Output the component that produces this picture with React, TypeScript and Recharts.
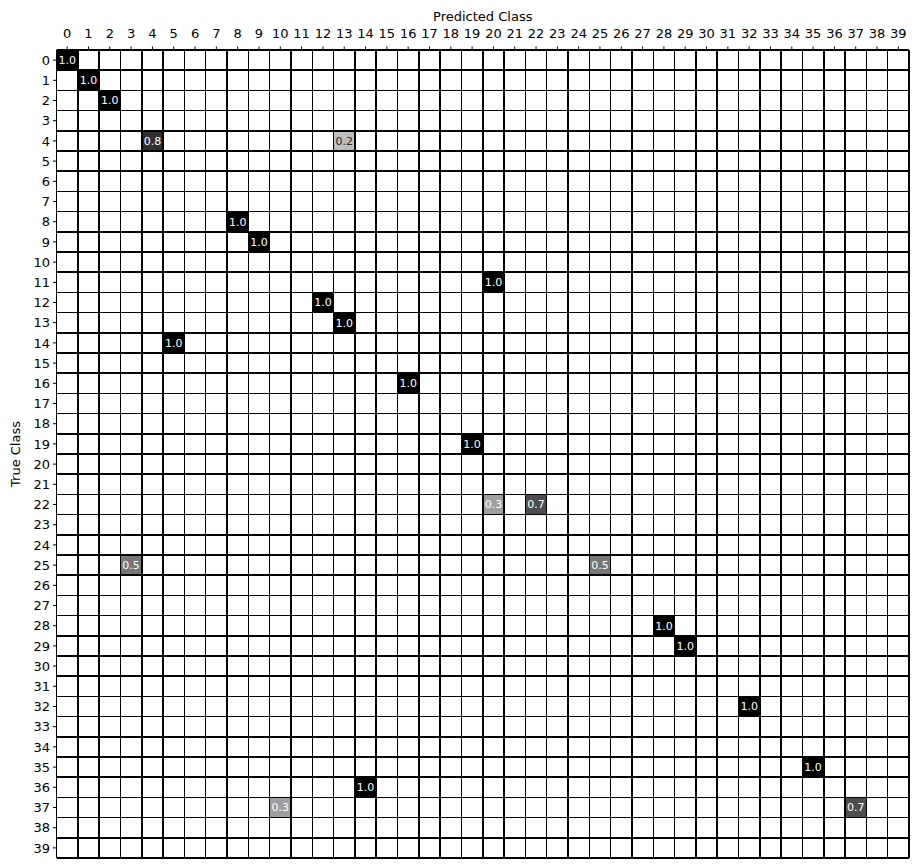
import React from "react";
import {
  ScatterChart, XAxis, YAxis, ReferenceArea, ReferenceLine, Label
} from "recharts";

// 40 classes, row = true class, column = predicted class
const classes = Array.from({ length: 40 }, (_, i) => i);

// non-zero cells of the normalised confusion matrix
const trueIdx = [0, 1, 2, 4, 4, 8, 9, 11, 12, 13, 14, 16, 19, 22, 22, 25, 25, 28, 29, 32, 35, 36, 37, 37];
const predIdx = [0, 1, 2, 4, 13, 8, 9, 20, 12, 13, 5, 16, 19, 20, 22, 3, 25, 28, 29, 32, 35, 14, 10, 37];
const values = [1, 1, 1, 0.8, 0.2, 1, 1, 1, 1, 1, 1, 1, 1, 0.33, 0.67, 0.5, 0.5, 1, 1, 1, 1, 1, 0.33, 0.67];

const cells = values.map((v, i) => ({ row: trueIdx[i], col: predIdx[i], value: v }));

const FONT = "DejaVu Sans";

function greyFor(v: number) {
  const g = Math.round(255 * Math.max(0, Math.min(1, 0.93 * (1 - v))));
  return `rgb(${g},${g},${g})`;
}

export default function App() {
  return (
    <ScatterChart
      width={903}
      height={852}
      margin={{ top: 0, right: 2, bottom: 2, left: 0 }}
      style={{ fontFamily: FONT }}
    >
      <XAxis
        type="number"
        dataKey="col"
        orientation="top"
        domain={[-0.5, 39.5]}
        ticks={classes}
        interval={0}
        height={42}
        tickSize={3.5}
        tickMargin={9}
        stroke="#000"
        tick={{ fill: "#000", fontSize: 13, fontFamily: FONT }}
        allowDataOverflow
      >
        <Label value="Predicted Class" position="insideTop" offset={4} fill="#000" fontSize={13} fontFamily={FONT} />
      </XAxis>
      <YAxis
        type="number"
        dataKey="row"
        reversed
        domain={[-0.5, 39.5]}
        ticks={classes}
        interval={0}
        width={48.5}
        tickSize={3.5}
        tickMargin={3}
        stroke="#000"
        tick={{ fill: "#000", fontSize: 13, fontFamily: FONT }}
        allowDataOverflow
      >
        <Label value="True Class" angle={-90} position="insideLeft" offset={7} textAnchor="middle" fill="#000" fontSize={13} fontFamily={FONT} />
      </YAxis>

      {cells.map((c, i) => (
        <ReferenceArea
          key={`c${i}`}
          x1={c.col - 0.5}
          x2={c.col + 0.5}
          y1={c.row - 0.5}
          y2={c.row + 0.5}
          fill={greyFor(c.value)}
          fillOpacity={1}
          stroke="none"
          label={{
            value: c.value.toFixed(1),
            position: "center",
            fill: c.value > 0.25 ? "#fff" : "#262626",
            fontSize: 11,
            fontFamily: FONT,
          }}
        />
      ))}

      {Array.from({ length: 41 }, (_, k) => k - 0.5).map((p) => (
        <ReferenceLine key={`v${p}`} x={p} stroke="#000" strokeWidth={1.5} shapeRendering="crispEdges" />
      ))}
      {Array.from({ length: 41 }, (_, k) => k - 0.5).map((p) => (
        <ReferenceLine key={`h${p}`} y={p} stroke="#000" strokeWidth={1.5} shapeRendering="crispEdges" />
      ))}
    </ScatterChart>
  );
}
